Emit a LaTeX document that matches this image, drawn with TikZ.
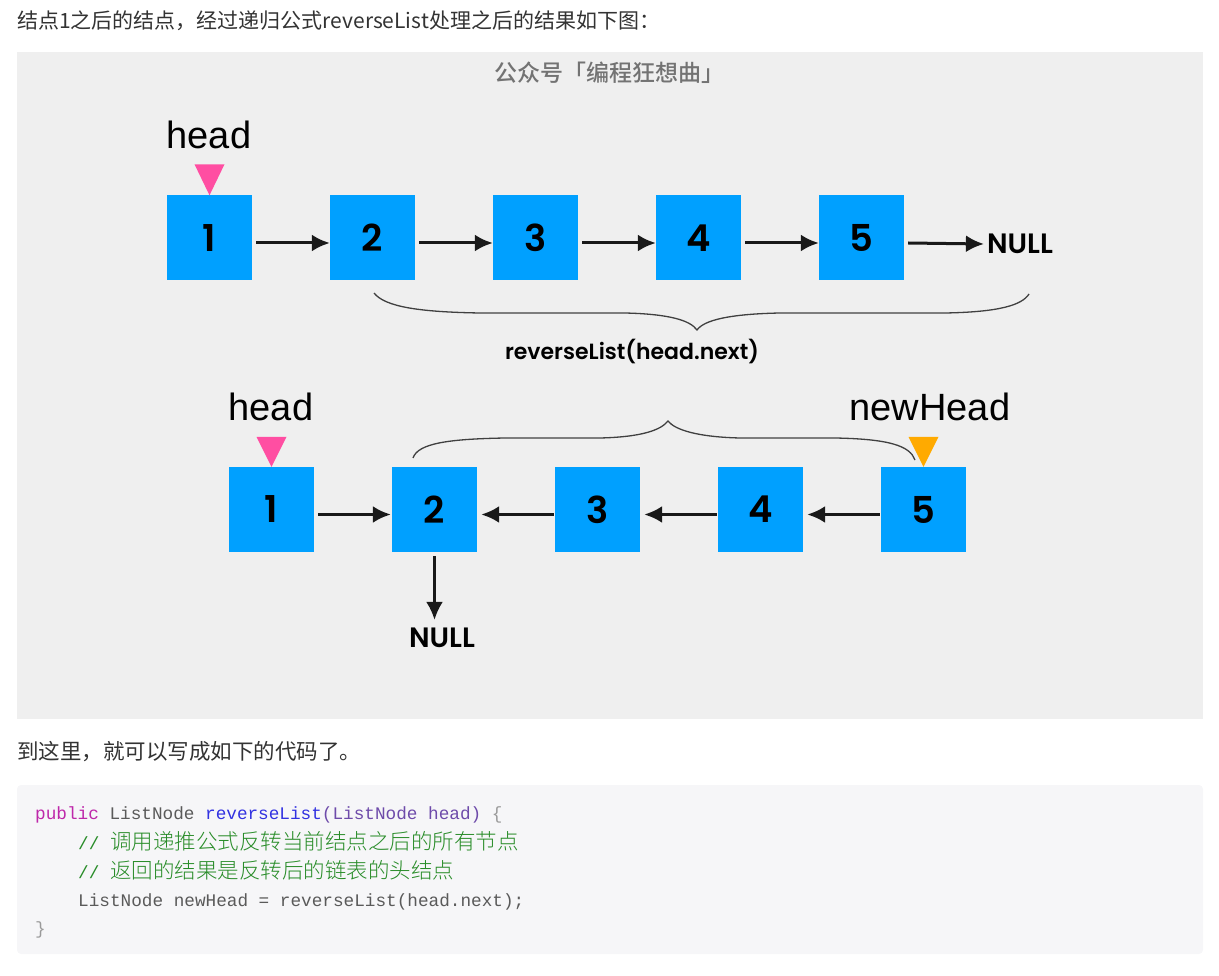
\documentclass[tikz,border=0pt]{standalone}
\usepackage{fontspec}
\usepackage{xcolor}
\usetikzlibrary{arrows.meta}
\setmainfont{Liberation Sans}
\newfontfamily\cjk{Noto Sans CJK SC}
\IfFontExistsTF{Noto Sans CJK SC Light}
  {\newfontfamily\cjklight{Noto Sans CJK SC Light}}
  {\newfontfamily\cjklight{Noto Sans CJK SC}}
\IfFontExistsTF{Noto Sans CJK SC Medium}
  {\newfontfamily\cjkmed{Noto Sans CJK SC Medium}}
  {\newfontfamily\cjkmed{Noto Sans CJK SC}[FakeBold=1.5]}
\IfFontExistsTF{Poppins SemiBold}
  {\newfontfamily\popfont{Poppins SemiBold}}
  {\newfontfamily\popfont{Poppins}[FakeBold=2]}
\newfontfamily\codefont{Liberation Mono}
\newcommand{\setfs}[1]{\fontsize{#1}{#1}\selectfont}
\definecolor{panelgray}{HTML}{EFEFEF}
\definecolor{codebg}{HTML}{F6F6F8}
\definecolor{nodeblue}{RGB}{0,160,255}
\definecolor{headpink}{RGB}{255,78,162}
\definecolor{headorange}{RGB}{255,170,0}
\definecolor{kwpink}{RGB}{190,40,170}
\definecolor{fnblue}{RGB}{50,50,225}
\definecolor{parpurple}{RGB}{110,75,170}
\definecolor{codegray}{HTML}{5A5A5A}
\definecolor{lightgr}{HTML}{9A9A9A}
\definecolor{cmtgreen}{RGB}{40,140,40}

\begin{document}
\begin{tikzpicture}[x=1pt,y=-1pt,
    listnode/.style={fill=nodeblue,minimum size=85pt,inner sep=0pt,
      font=\popfont\setfs{37}},
    nullnode/.style={inner sep=0pt,font=\popfont\setfs{28}},
    ptrlabel/.style={inner sep=0pt,font=\setfs{38}},
    link/.style={-{Latex[length=18pt,width=17pt]},line width=3pt,black!90},
    bracepath/.style={line width=1.3pt,draw=black!75},
    codeline/.style={anchor=base west,inner sep=0pt,font=\codefont\setfs{17.7},
      text=codegray}]
  \useasboundingbox (0,0) rectangle (1219,976);

  % page texts and panels
  \node[anchor=west,inner sep=0pt,text=black!80,font=\cjk\setfs{21}] (intro)
    at (17,21) {结点1之后的结点，经过递归公式reverseList处理之后的结果如下图：};
  \fill[panelgray] (17,52) rectangle (1203,719);
  \node[text=black!55,font=\cjkmed\setfs{23}] (mark) at (609,73)
    {公众号「编程狂想曲」};

  % list before the call
  \foreach \i in {1,...,5}
    \node[listnode] (a\i) at ({209.5+163*(\i-1)},238) {\i};
  \node[nullnode] (anull) at (1020,244) {NULL};
  \foreach \i/\j in {1/2,2/3,3/4,4/5}
    \draw[link] ([xshift=4pt,yshift=-5pt]a\i.east) -- ([yshift=-5pt]a\j.west);
  \draw[link] ([xshift=4pt,yshift=-5pt]a5.east) -- ([xshift=-3pt]anull.west);
  \node[ptrlabel] (ahead) at (209,135) {head};
  \fill[headpink] (a1.north) -- ++(-15,-31) -- ++(30,0) -- cycle;

  \draw[bracepath] (374,293) .. controls (385,307) and (420,312) .. (480,313)
    -- (625,313) .. controls (668,314) and (690,320) .. (697,330)
    .. controls (704,320) and (730,314) .. (780,313) -- (945,313)
    .. controls (1000,312) and (1022,305) .. (1029,294);
  \node[font=\popfont\setfs{22}] (call) at (632,352)
    {reverseList(head.next)};

  % list after the call
  \foreach \i in {1,...,5}
    \node[listnode] (b\i) at ({271.5+163*(\i-1)},509.5) {\i};
  \draw[link] ([xshift=4pt,yshift=-5pt]b1.east) -- ([xshift=-1pt,yshift=-5pt]b2.west);
  \foreach \i/\j in {3/2,4/3,5/4}
    \draw[link] ([xshift=-1pt,yshift=-5pt]b\i.west) -- ([xshift=4pt,yshift=-5pt]b\j.east);
  \node[nullnode] (bnull) at (442,638) {NULL};
  \draw[link] ([yshift=-4pt]b2.south) -- ([yshift=8pt]b2.south |- bnull.north);
  \node[ptrlabel] (bhead) at (271,407) {head};
  \node[ptrlabel] (newhead) at (930,407) {newHead};
  \fill[headpink] (b1.north) -- ++(-15,-30) -- ++(30,0) -- cycle;
  \fill[headorange] (b5.north) -- ++(-15,-30) -- ++(30,0) -- cycle;

  \draw[bracepath] (413,458) .. controls (418,443) and (450,439) .. (505,438)
    -- (600,438) .. controls (642,437) and (661,430) .. (668,421)
    .. controls (675,430) and (698,437) .. (740,438) -- (835,438)
    .. controls (890,439) and (910,446) .. (915,460);

  % text and code below the picture
  \node[anchor=west,inner sep=0pt,text=black!80,font=\cjk\setfs{21.5}] (outro)
    at (17,752) {到这里，就可以写成如下的代码了。};
  \fill[codebg,rounded corners=4pt] (17,785) rectangle (1203,954);
  \node[codeline] (c1) at (35,819) {\textcolor{kwpink}{public} ListNode
    \textcolor{fnblue}{reverseList}\textcolor{parpurple}{(ListNode head)}
    \textcolor{lightgr}{\{}};
  \node[codeline,text=cmtgreen] (c2) at (78,849) {// {\cjklight\setfs{21.5}调用递推公式反转当前结点之后的所有节点}};
  \node[codeline,text=cmtgreen] (c3) at (78,878) {// {\cjklight\setfs{21.5}返回的结果是反转后的链表的头结点}};
  \node[codeline] (c4) at (78,906) {ListNode newHead = reverseList(head.next);};
  \node[codeline,text=lightgr] (c5) at (35,934) {\}};
\end{tikzpicture}
\end{document}
